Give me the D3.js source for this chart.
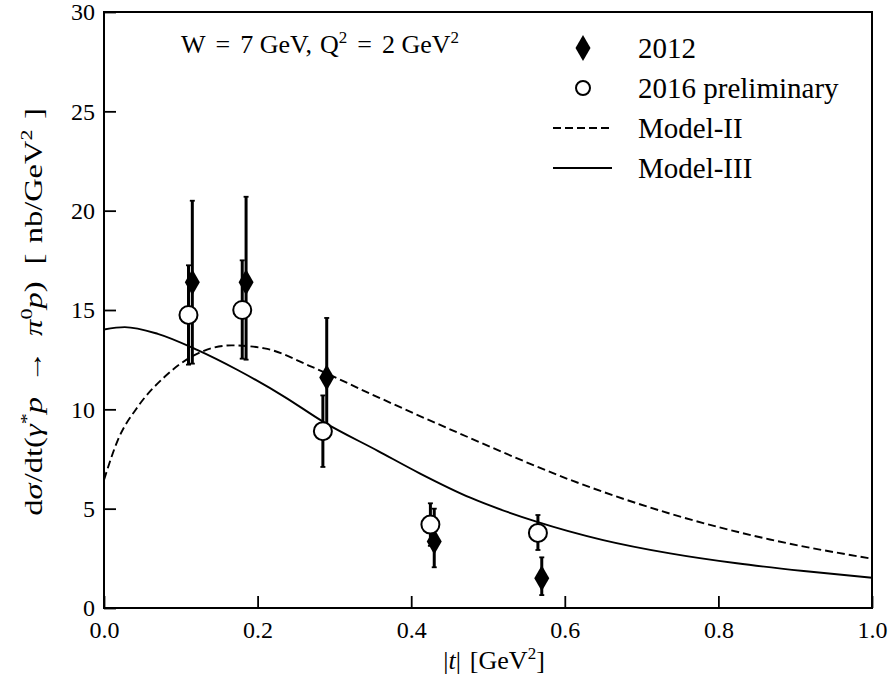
<!DOCTYPE html>
<html><head><meta charset="utf-8">
<script src="https://cdn.jsdelivr.net/npm/d3@7"></script>
<style>body{margin:0;background:#fff}svg{display:block}</style>
</head><body><svg id="c" width="893" height="685"></svg>
<script>
// data
const t2012 = [0.115, 0.185, 0.290, 0.430, 0.570];
const y2012 = [16.4, 16.4, 11.6, 3.35, 1.5];
const e2012Hi = [4.1, 4.3, 3.0, 1.65, 1.05];
const e2012Lo = [4.1, 3.9, 3.0, 1.3, 0.85];
const t2016 = [0.110, 0.180, 0.285, 0.425, 0.565];
const y2016 = [14.75, 15.0, 8.9, 4.2, 3.78];
const e2016Hi = [2.5, 2.5, 1.8, 1.07, 0.9];
const e2016Lo = [2.5, 2.45, 1.8, 1.07, 0.86];
const modelIIt = [0.0, 0.018, 0.044, 0.079, 0.114, 0.166, 0.209, 0.27, 0.346, 0.477, 0.607, 0.737, 0.867, 1.0];
const modelIIy = [6.45, 8.45, 10.13, 11.64, 12.65, 13.22, 13.07, 12.15, 10.8, 8.55, 6.45, 4.75, 3.45, 2.48];
const modelIIIt = [0.0, 0.027, 0.07, 0.122, 0.174, 0.235, 0.2856, 0.357, 0.411, 0.477, 0.563, 0.65, 0.737, 0.824, 0.911, 1.0];
const modelIIIy = [14.02, 14.14, 13.8, 12.98, 11.98, 10.63, 9.37, 7.9, 6.78, 5.55, 4.35, 3.42, 2.75, 2.25, 1.86, 1.52];
const xTicks = [0.0, 0.2, 0.4, 0.6, 0.8, 1.0];
const yTicks = [0, 5, 10, 15, 20, 25, 30];

const FONT = "'Liberation Serif', 'Times New Roman', Times, serif";
const svg = d3.select("#c");
const L = 104, R = 872, T = 12, B = 608;
const x = d3.scaleLinear().domain([0, 1]).range([L, R]);
const y = d3.scaleLinear().domain([0, 30]).range([B, T]);

// axes
const xa = d3.axisBottom(x).tickValues(xTicks).tickFormat(d3.format(".1f")).tickSizeInner(-12).tickSizeOuter(0).tickPadding(8);
const ya = d3.axisLeft(y).tickValues(yTicks).tickFormat(d3.format("d")).tickSizeInner(-12).tickSizeOuter(0).tickPadding(9);
const gx = svg.append("g").attr("transform", `translate(0,${B})`).call(xa);
const gy = svg.append("g").attr("transform", `translate(${L},0)`).call(ya);
[gx, gy].forEach(g => {
  g.attr("font-family", FONT);
  g.select(".domain").remove();
  g.selectAll(".tick line").attr("stroke", "#000").attr("stroke-width", 1.8);
  g.selectAll(".tick text").attr("font-size", 24).attr("fill", "#000");
});
gx.selectAll(".tick text").attr("dy", "0.9em");
gy.selectAll(".tick text").attr("dy", "0.32em");

// curves
const line = d3.line().x(d => x(d[0])).y(d => y(d[1])).curve(d3.curveMonotoneX);
svg.append("path").datum(modelIIt.map((t, i) => [t, modelIIy[i]]))
  .attr("d", line).attr("fill", "none").attr("stroke", "#000").attr("stroke-width", 1.9).attr("stroke-dasharray", "8,4");
svg.append("path").datum(modelIIIt.map((t, i) => [t, modelIIIy[i]]))
  .attr("d", line).attr("fill", "none").attr("stroke", "#000").attr("stroke-width", 1.9);

function errbars(ts, ys, hi, lo) {
  const g = svg.append("g");
  ts.forEach((t, i) => {
    const cx = x(t);
    g.append("line").attr("x1", cx).attr("x2", cx).attr("y1", y(ys[i] + hi[i])).attr("y2", y(ys[i] - lo[i]))
      .attr("stroke", "#000").attr("stroke-width", 3);
    [ys[i] + hi[i], ys[i] - lo[i]].forEach(v => g.append("line").attr("x1", cx - 2.5).attr("x2", cx + 2.5)
      .attr("y1", y(v)).attr("y2", y(v)).attr("stroke", "#000").attr("stroke-width", 1.8));
  });
}
const diamond = (cx, cy) => `M${cx},${cy - 13}L${cx + 7.5},${cy}L${cx},${cy + 13}L${cx - 7.5},${cy}Z`;

errbars(t2012, y2012, e2012Hi, e2012Lo);
svg.append("g").selectAll("path").data(t2012).join("path")
  .attr("d", (t, i) => diamond(x(t), y(y2012[i]))).attr("fill", "#000");
errbars(t2016, y2016, e2016Hi, e2016Lo);
svg.append("g").selectAll("circle").data(t2016).join("circle")
  .attr("cx", t => x(t)).attr("cy", (t, i) => y(y2016[i])).attr("r", 9)
  .attr("fill", "#fff").attr("stroke", "#000").attr("stroke-width", 2);

// frame
svg.append("rect").attr("x", L).attr("y", T).attr("width", R - L).attr("height", B - T)
  .attr("fill", "none").attr("stroke", "#000").attr("stroke-width", 2);

// annotation
const ann = svg.append("text").attr("x", 181).attr("y", 53).attr("font-size", 26);
ann.append("tspan").text("W");
ann.append("tspan").attr("dx", 10).text("=");
ann.append("tspan").attr("dx", 10).text("7 GeV,");
ann.append("tspan").attr("dx", 8).text("Q");
ann.append("tspan").attr("dy", -10).attr("font-size", 17).text("2");
ann.append("tspan").attr("dy", 10).attr("dx", 10).text("=");
ann.append("tspan").attr("dx", 10).text("2 GeV");
ann.append("tspan").attr("dy", -10).attr("font-size", 17).text("2");

// legend
const lg = svg.append("g");
lg.append("path").attr("d", diamond(583, 48)).attr("fill", "#000");
lg.append("circle").attr("cx", 583).attr("cy", 88).attr("r", 7).attr("fill", "#fff").attr("stroke", "#000").attr("stroke-width", 2);
lg.append("line").attr("x1", 553).attr("x2", 612).attr("y1", 128).attr("y2", 128).attr("stroke", "#000").attr("stroke-width", 1.9).attr("stroke-dasharray", "8,4");
lg.append("line").attr("x1", 553).attr("x2", 612).attr("y1", 168).attr("y2", 168).attr("stroke", "#000").attr("stroke-width", 1.9);
["2012", "2016 preliminary", "Model-II", "Model-III"].forEach((s, i) =>
  lg.append("text").attr("x", 638).attr("y", 48 + 40 * i).attr("dy", "0.34em").attr("font-size", 29).text(s));

// x label
const xl = svg.append("text").attr("x", 494).attr("y", 669).attr("text-anchor", "middle").attr("font-size", 26);
xl.append("tspan").text("|");
xl.append("tspan").attr("font-style", "italic").text("t");
xl.append("tspan").text("|");
xl.append("tspan").attr("dx", 9).text("[GeV");
xl.append("tspan").attr("dy", -10).attr("font-size", 17).text("2");
xl.append("tspan").attr("dy", 10).text("]");

// y label
const ylg = svg.append("g");
const yl = ylg.append("text").attr("text-anchor", "middle").attr("font-size", 25).attr("font-family", FONT);
yl.append("tspan").text("d");
yl.append("tspan").attr("font-style", "italic").text("σ");
yl.append("tspan").attr("dx", 1).text("/dt(");
yl.append("tspan").attr("font-style", "italic").text("γ");
yl.append("tspan").attr("dy", -10).attr("font-size", 17).text("*");
yl.append("tspan").attr("dy", 10).attr("font-style", "italic").text("p");
yl.append("tspan").attr("dx", 11).text("→");
yl.append("tspan").attr("dx", 11).attr("font-style", "italic").text("π");
yl.append("tspan").attr("dy", -10).attr("font-size", 17).text("0");
yl.append("tspan").attr("dy", 10).attr("font-style", "italic").text("p");
yl.append("tspan").text(")");
yl.append("tspan").attr("dx", 13).text("[");
yl.append("tspan").attr("dx", 8).text("nb/GeV");
yl.append("tspan").attr("dy", -10).attr("font-size", 17).text("2");
yl.append("tspan").attr("dy", 10).attr("dx", 8).text("]");
const bw = yl.node().getBBox().width;
const sx = Math.min(1.3, 425 / bw);
ylg.attr("transform", `translate(42,312) rotate(-90) scale(${sx},1)`);

svg.selectAll("text").attr("font-family", FONT).attr("fill", "#000");
</script></body></html>
